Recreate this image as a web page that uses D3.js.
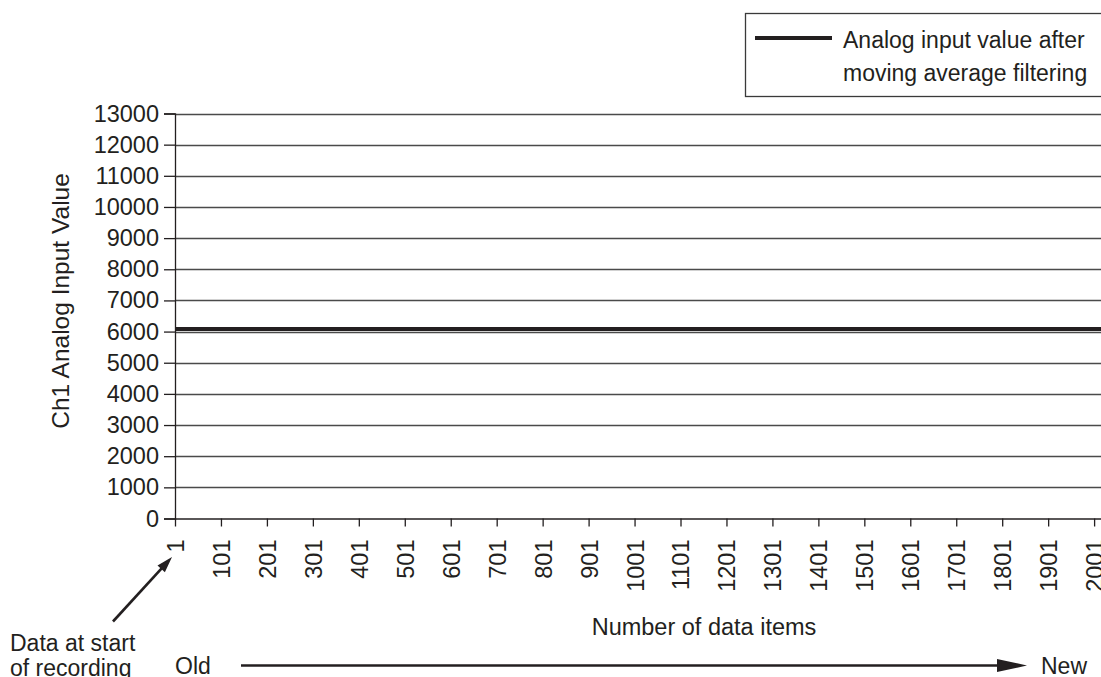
<!DOCTYPE html>
<html>
<head>
<meta charset="utf-8">
<script src="https://cdn.jsdelivr.net/npm/d3@7"></script>
<style>
  html, body { margin: 0; padding: 0; background: #fff; }
  svg { display: block; }
  text { font-family: "Liberation Sans", Arial, sans-serif; fill: #231f20; }
</style>
</head>
<body>
<svg id="chart" width="1101" height="677"></svg>
<script>
// Logged samples (record number -> filtered value)
const dataItems = [1, 2016];
const filteredValues = [6080, 6080];

// Axis ticks
const xTickLabels = [1, 101, 201, 301, 401, 501, 601, 701, 801, 901, 1001,
                     1101, 1201, 1301, 1401, 1501, 1601, 1701, 1801, 1901, 2001];
const yTickLabels = [0, 1000, 2000, 3000, 4000, 5000, 6000, 7000, 8000, 9000,
                     10000, 11000, 12000, 13000];

const seriesName = ["Analog input value after", "moving average filtering"];
const yTitle = "Ch1 Analog Input Value";
const xTitle = "Number of data items";

const W = 1101, H = 677;
const ink = "#231f20";
const svg = d3.select("#chart");

const x = d3.scaleLinear().domain([1, 2016]).range([175, 1101]);
const y = d3.scaleLinear().domain([0, 13000]).range([518.5, 113.5]);

// arrow: shaft plus filled triangular head
function arrow(x1, y1, x2, y2, headLen, headHalf, width) {
  const g = svg.append("g");
  const dx = x2 - x1, dy = y2 - y1;
  const len = Math.hypot(dx, dy);
  const ux = dx / len, uy = dy / len;
  const bx = x2 - ux * headLen, by = y2 - uy * headLen;
  g.append("line")
    .attr("x1", x1).attr("y1", y1).attr("x2", bx + ux * 2).attr("y2", by + uy * 2)
    .attr("stroke", ink).attr("stroke-width", width);
  g.append("path")
    .attr("d", d3.line()([
      [x2, y2],
      [bx - uy * headHalf, by + ux * headHalf],
      [bx + uy * headHalf, by - ux * headHalf]
    ]) + "Z")
    .attr("fill", ink);
}

// horizontal gridlines
svg.append("g")
  .selectAll("line")
  .data(yTickLabels.filter(d => d > 0))
  .join("line")
  .attr("x1", x(1)).attr("x2", W)
  .attr("y1", d => Math.round(y(d)) + 0.5).attr("y2", d => Math.round(y(d)) + 0.5)
  .attr("stroke", "#4a4a4a").attr("stroke-width", 1.3);

// y axis
const yAxis = svg.append("g")
  .attr("transform", `translate(${x(1)},0)`)
  .call(d3.axisLeft(y).tickValues(yTickLabels).tickSize(11).tickPadding(5).tickFormat(d3.format("d")));
yAxis.select(".domain").attr("stroke", ink).attr("stroke-width", 1.3);
yAxis.selectAll(".tick line").attr("stroke", ink).attr("stroke-width", 1.3);
yAxis.selectAll(".tick text")
  .style("font-family", '"Liberation Sans", Arial, sans-serif')
  .style("font-size", "23.5px").attr("fill", ink);

// x axis
const xAxis = svg.append("g")
  .attr("transform", `translate(0,${y(0)})`)
  .call(d3.axisBottom(x).tickValues(xTickLabels).tickSize(8).tickSizeOuter(0).tickFormat(d3.format("d")));
xAxis.select(".domain").attr("stroke", ink).attr("stroke-width", 1.3);
xAxis.selectAll(".tick line").attr("stroke", ink).attr("stroke-width", 1.3);
xAxis.selectAll(".tick text")
  .style("font-family", '"Liberation Sans", Arial, sans-serif')
  .style("font-size", "23.5px").attr("fill", ink)
  .attr("transform", "rotate(-90)")
  .attr("text-anchor", "end")
  .attr("x", -21).attr("y", 0).attr("dy", "0.36em");

// filtered value line
const line = d3.line()
  .x((d, i) => x(dataItems[i]))
  .y(d => y(d));
svg.append("path")
  .datum(filteredValues)
  .attr("d", line)
  .attr("fill", "none")
  .attr("stroke", ink)
  .attr("stroke-width", 4);

// axis titles
svg.append("text")
  .attr("transform", `translate(69,301) rotate(-90)`)
  .attr("text-anchor", "middle")
  .style("font-size", "24.5px")
  .text(yTitle);

svg.append("text")
  .attr("x", 704).attr("y", 635)
  .attr("text-anchor", "middle")
  .style("font-size", "23.5px")
  .text(xTitle);

// legend
const lg = svg.append("g");
lg.append("rect")
  .attr("x", 745.5).attr("y", 13.5).attr("width", 400).attr("height", 83)
  .attr("fill", "#fff").attr("stroke", "#3a3a3a").attr("stroke-width", 1.3);
lg.append("line")
  .attr("x1", 755).attr("x2", 832).attr("y1", 38).attr("y2", 38)
  .attr("stroke", ink).attr("stroke-width", 4);
lg.selectAll("text.series")
  .data(seriesName)
  .join("text")
  .attr("class", "series")
  .attr("x", 843).attr("y", (d, i) => 48 + i * 33)
  .style("font-size", "23px")
  .text(d => d);

// start-of-recording note
const note = ["Data at start", "of recording"];
svg.selectAll("text.note")
  .data(note)
  .join("text")
  .attr("class", "note")
  .attr("x", 10).attr("y", (d, i) => 651 + i * 25)
  .style("font-size", "23px")
  .text(d => d);

arrow(113, 621.5, 172, 557, 16, 5, 2.6);

// time direction
svg.append("text").attr("x", 175).attr("y", 674).style("font-size", "23px").text("Old");
arrow(241, 665.5, 1027, 665.5, 30, 6.5, 2.6);
svg.append("text").attr("x", 1041).attr("y", 674).style("font-size", "23px").text("New");
</script>
</body>
</html>
